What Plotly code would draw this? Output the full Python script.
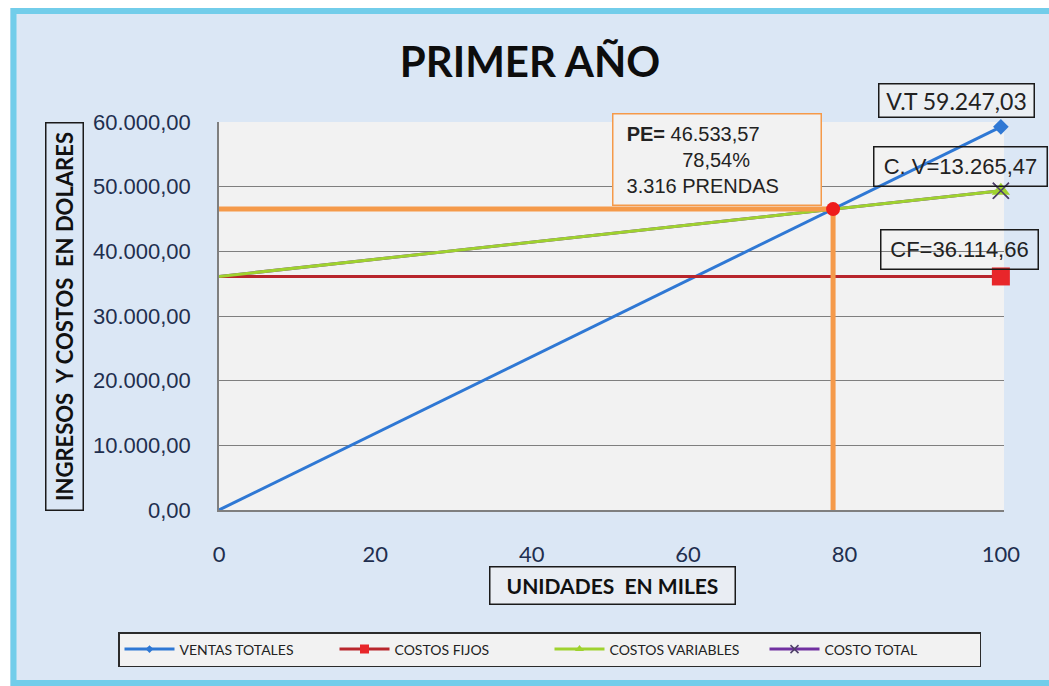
import plotly.graph_objects as go

# ---- data (x in thousands of units, y in dollars) ----
unidades = [0, 100]
ventas_totales = [0.0, 59247.03]
costos_fijos = [36114.66, 36114.66]
costos_variables = [36114.66, 49380.13]
costo_total = [36114.66, 49380.13]
costo_variable_final = 13265.47

pe_unidades = 78.54
pe_valor = 46533.57
pe_porcentaje = 78.54
pe_prendas = 3316

x_ticks = [0, 20, 40, 60, 80, 100]

# ---- figure geometry (pixels) ----
W, H = 1049, 686
ML, MR, MT, MB = 219, 45, 122, 176
PW, PH = W - ML - MR, H - MT - MB


def px(x):
    return (x - ML) / PW


def py(y):
    return (H - MB - y) / PH


def fmt(v, dec=2):
    s = f"{v:,.{dec}f}"
    return s.replace(",", "X").replace(".", ",").replace("X", ".")


NARROW = "Lato, Roboto, sans-serif"
SANS = "Liberation Sans, Arial, sans-serif"
INK = "#1f2f4f"

BLUE = "#2f78d4"
RED_LINE = "#b8262c"
RED_MARK = "#e8262a"
GREEN = "#9fd22f"
PURPLE = "#7030a0"
ORANGE = "#f59a4a"
X_MARK = "#4f3f6a"

fig = go.Figure()

# total cost line sits underneath the variable-cost line
fig.add_trace(go.Scatter(
    x=unidades, y=costo_total, name="COSTO TOTAL", legendrank=4,
    mode="lines+markers", line=dict(color=PURPLE, width=3),
    marker=dict(symbol="x-thin-open", size=[0, 16], color=X_MARK, opacity=1,
                line=dict(color=X_MARK, width=1.5)),
    cliponaxis=False,
))
fig.add_trace(go.Scatter(
    x=unidades, y=ventas_totales, name="VENTAS TOTALES", legendrank=1,
    mode="lines+markers", line=dict(color=BLUE, width=3),
    marker=dict(symbol="diamond", size=[0, 12], color=BLUE, opacity=1,
                line=dict(width=0)),
    cliponaxis=False,
))
fig.add_trace(go.Scatter(
    x=unidades, y=costos_fijos, name="COSTOS FIJOS", legendrank=2,
    mode="lines+markers", line=dict(color=RED_LINE, width=3),
    marker=dict(symbol="square", size=[0, 18], color=RED_MARK, opacity=1,
                line=dict(width=0)),
    cliponaxis=False,
))
fig.add_trace(go.Scatter(
    x=unidades, y=costos_variables, name="COSTOS VARIABLES", legendrank=3,
    mode="lines+markers", line=dict(color=GREEN, width=3),
    marker=dict(symbol="triangle-up", size=[0, 16], color=GREEN, opacity=1,
                line=dict(width=0)),
    cliponaxis=False,
))
# end marker of the total-cost series, drawn on top
fig.add_trace(go.Scatter(
    x=unidades[-1:], y=costo_total[-1:], mode="markers", showlegend=False,
    marker=dict(symbol="x-thin-open", size=16, color=X_MARK,
                line=dict(color=X_MARK, width=1.5)),
    cliponaxis=False, hoverinfo="skip",
))
# break-even guide lines
fig.add_trace(go.Scatter(
    x=[0, pe_unidades, pe_unidades], y=[pe_valor, pe_valor, 0],
    mode="lines", line=dict(color=ORANGE, width=5), showlegend=False,
    hoverinfo="skip",
))
# break-even point
fig.add_trace(go.Scatter(
    x=[pe_unidades], y=[pe_valor], mode="markers", showlegend=False,
    marker=dict(symbol="circle", size=14, color="#ee1c1c"),
    cliponaxis=False,
))

# ---- background frame ----
shapes = [
    dict(type="rect", xref="paper", yref="paper", x0=px(-5), x1=px(W + 5),
         y0=py(-5), y1=py(8), fillcolor="white", line=dict(width=0), layer="below"),
    dict(type="rect", xref="paper", yref="paper", x0=px(-5), x1=px(10),
         y0=py(-5), y1=py(H + 5), fillcolor="white", line=dict(width=0), layer="below"),
    dict(type="rect", xref="paper", yref="paper", x0=px(13.5), x1=px(W + 20),
         y0=py(11), y1=py(683), fillcolor="rgba(0,0,0,0)",
         line=dict(color="#72cdea", width=6), layer="below"),
]

ann = []
box = dict(showarrow=False, xref="paper", yref="paper", bordercolor="#1a1a1a",
           borderwidth=1.5, xanchor="center", yanchor="middle")

# axis titles
ann.append(dict(box, x=px(64), y=py(317), text="<b>INGRESOS  Y COSTOS  EN DOLARES</b>",
                textangle=-90, width=382, height=32, borderpad=2,
                font=dict(family=NARROW, size=22, color="#111")))
ann.append(dict(box, x=px(612), y=py(585.5), text="<b>UNIDADES  EN MILES</b>",
                width=240, height=32, borderpad=2, bgcolor="rgba(242,242,242,0.6)",
                font=dict(family=NARROW, size=21, color="#111")))

# data labels
ann.append(dict(box, x=px(956), y=py(100), text=f"V.T {fmt(ventas_totales[-1])}",
                width=150, height=28, borderpad=2, bgcolor="rgba(242,242,242,0.7)",
                font=dict(family=NARROW, size=23, color="#222")))
ann.append(dict(box, x=px(960), y=py(166), text=f"C. V={fmt(costo_variable_final)}",
                width=168, height=34, borderpad=2,
                font=dict(family=SANS, size=22, color="#222")))
ann.append(dict(box, x=px(959), y=py(249), text=f"CF={fmt(costos_fijos[0])}",
                width=152, height=34, borderpad=2,
                font=dict(family=SANS, size=22, color="#222")))

nb = "\u00a0"
pe_text = (f"{nb*2}<b>PE=</b> {fmt(pe_valor)}<br>"
           f"{nb*12}{fmt(pe_porcentaje)}%<br>"
           f"{nb*2}{fmt(pe_prendas, 0)} PRENDAS")
ann.append(dict(box, x=px(716.5), y=py(159), text=pe_text, align="left",
                width=203, height=86, borderpad=2, bordercolor=ORANGE,
                bgcolor="#f2f2f2", font=dict(family=SANS, size=20, color="#222")))

fig.update_layout(
    width=W, height=H,
    margin=dict(l=ML, r=MR, t=MT, b=MB, pad=0, autoexpand=False),
    paper_bgcolor="#dbe7f5",
    plot_bgcolor="#f2f2f2",
    separators=",.",
    title=dict(text="<b>PRIMER AÑO</b>", x=530 / W, xanchor="center",
               y=1 - 62 / H, yanchor="middle",
               font=dict(family=NARROW, size=42, color="#0d0d0d")),
    xaxis=dict(range=[0, 100.4], tickvals=x_ticks, showgrid=False, zeroline=False,
               showline=True, linecolor="#7f7f7f", linewidth=1.5, ticks="",
               ticklabelstandoff=24,
               tickfont=dict(family=NARROW, size=22, color=INK)),
    yaxis=dict(range=[0, 60000], dtick=10000, tickformat=",.2f",
               showgrid=True, gridcolor="#7f7f7f", gridwidth=1, zeroline=False,
               showline=True, linecolor="#7f7f7f", linewidth=1.5, ticks="",
               ticklabelstandoff=22,
               tickfont=dict(family=SANS, size=22, color=INK)),
    legend=dict(orientation="h", x=px(118), y=py(632), xanchor="left", yanchor="top",
                bgcolor="#f2f2f2", bordercolor="#2b2b2b", borderwidth=1.5,
                entrywidth=150, entrywidthmode="pixels", itemwidth=50,
                font=dict(family=NARROW, size=14, color="#222")),
    shapes=shapes,
    annotations=ann,
    showlegend=True,
)

fig.write_html("out.html")
